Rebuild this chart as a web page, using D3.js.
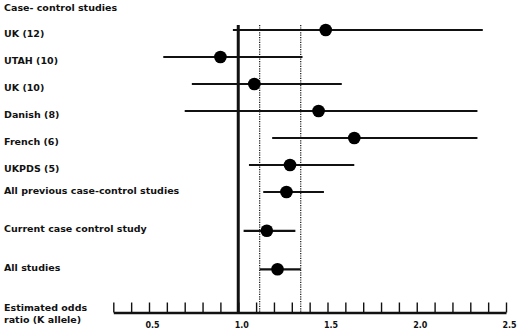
<!DOCTYPE html>
<html>
<head>
<meta charset="utf-8">
<script src="https://cdn.jsdelivr.net/npm/d3@7"></script>
<style>
  body { margin: 0; background: #fff; }
  text { font-family: "DejaVu Sans", Verdana, sans-serif; font-weight: bold; fill: #111; }
</style>
</head>
<body>
<svg id="chart" width="520" height="333"></svg>
<script>
// study labels, odds ratios and 95% CI
var studies = ["UK (12)", "UTAH (10)", "UK (10)", "Danish (8)", "French (6)", "UKPDS (5)",
  "All previous case-control studies", "Current case control study", "All studies"];
var oddsRatio = [1.49, 0.90, 1.09, 1.45, 1.65, 1.29, 1.27, 1.16, 1.22];
var lower = [0.97, 0.58, 0.74, 0.70, 1.19, 1.06, 1.14, 1.03, 1.12];
var upper = [2.37, 1.36, 1.58, 2.34, 2.34, 1.65, 1.48, 1.32, 1.35];
var refLines = [1.12, 1.35];   // dotted CI of pooled estimate
var nullValue = 1.0;
var tickValues = d3.range(3, 26).map(function (d) { return d / 10; });
var labelValues = [0.5, 1.0, 1.5, 2.0, 2.5];

var svg = d3.select("#chart");

var x = d3.scaleLinear().domain([0.3, 2.5]).range([113.3, 506]);
var axisY = 312.5;
var topY = 25;

// rows: individual studies closer together, summary rows further apart
function rowY(i) {
  return i <= 6 ? 30 + 27 * i : 192.3 + 38.5 * (i - 6);
}

// header
svg.append("text")
  .attr("x", 4).attr("y", 11)
  .style("font-size", "9.5px")
  .text("Case- control studies");

// row labels
svg.append("g").selectAll("text")
  .data(studies)
  .join("text")
  .attr("x", 4)
  .attr("y", function (d, i) { return rowY(i) + (i < 6 ? 6.8 : 1.5); })
  .style("font-size", "9.5px")
  .text(function (d) { return d; });

// dotted reference lines
svg.append("g").selectAll("line")
  .data(refLines)
  .join("line")
  .attr("x1", function (d) { return x(d); })
  .attr("x2", function (d) { return x(d); })
  .attr("y1", topY).attr("y2", axisY)
  .attr("stroke", "#111")
  .attr("stroke-width", 1.2)
  .attr("stroke-dasharray", "1.2,1.2");

// null line
svg.append("line")
  .attr("x1", x(nullValue)).attr("x2", x(nullValue))
  .attr("y1", topY).attr("y2", axisY)
  .attr("stroke", "#111")
  .attr("stroke-width", 3);

// confidence intervals
svg.append("g").selectAll("line")
  .data(studies)
  .join("line")
  .attr("x1", function (d, i) { return x(lower[i]); })
  .attr("x2", function (d, i) { return x(upper[i]); })
  .attr("y1", function (d, i) { return rowY(i); })
  .attr("y2", function (d, i) { return rowY(i); })
  .attr("stroke", "#111")
  .attr("stroke-width", 2.2);

// point estimates
svg.append("g").selectAll("circle")
  .data(studies)
  .join("circle")
  .attr("cx", function (d, i) { return x(oddsRatio[i]); })
  .attr("cy", function (d, i) { return rowY(i); })
  .attr("r", 6.3)
  .attr("fill", "#000");

// axis: ticks pointing up, labels every 0.5
var fmt = d3.format(".1f");
var axis = d3.axisBottom(x)
  .tickValues(tickValues)
  .tickSizeInner(-10)
  .tickSizeOuter(0)
  .tickPadding(9.5)
  .tickFormat(function (d) {
    return labelValues.some(function (v) { return Math.abs(v - d) < 1e-6; }) ? fmt(d) : "";
  });

var gAxis = svg.append("g")
  .attr("transform", "translate(0," + axisY + ")")
  .call(axis);
gAxis.select(".domain").attr("stroke", "#111").attr("stroke-width", 2.5);
gAxis.selectAll(".tick line").attr("stroke", "#111").attr("stroke-width", 1.4);
gAxis.selectAll(".tick text")
  .attr("dx", 3)
  .style("font-family", "'DejaVu Sans', Verdana, sans-serif")
  .style("font-weight", "bold")
  .style("font-size", "8px")
  .attr("fill", "#111");

// axis title
svg.append("text")
  .attr("x", 4).attr("y", 310.5)
  .style("font-size", "9.5px")
  .text("Estimated odds");
svg.append("text")
  .attr("x", 4).attr("y", 322.5)
  .style("font-size", "9.5px")
  .text("ratio (K allele)");
</script>
</body>
</html>
